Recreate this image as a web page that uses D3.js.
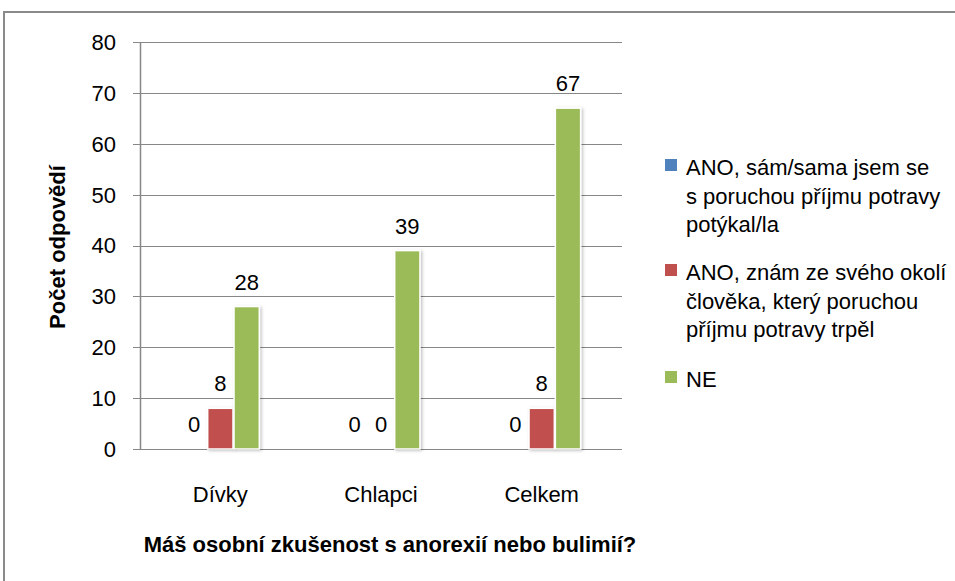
<!DOCTYPE html>
<html>
<head>
<meta charset="utf-8">
<script src="https://cdn.jsdelivr.net/npm/d3@7"></script>
<style>
  html, body { margin: 0; padding: 0; background: #fff; }
  svg { display: block; font-family: "Liberation Sans", Arial, sans-serif; }
</style>
</head>
<body>
<svg id="chart" width="955" height="581"></svg>
<script>
const categories = ["Dívky", "Chlapci", "Celkem"];
const seriesNames = [
  ["ANO, sám/sama jsem se", "s poruchou příjmu potravy", "potýkal/la"],
  ["ANO, znám ze svého okolí", "člověka, který poruchou", "příjmu potravy trpěl"],
  ["NE"]
];
const seriesColors = ["#4F81BD", "#C0504D", "#9BBB59"];
const anoSam = [0, 0, 0];
const anoOkoli = [8, 0, 8];
const ne = [28, 39, 67];
const yTicks = [0, 10, 20, 30, 40, 50, 60, 70, 80];
const yTitle = "Počet odpovědí";
const xTitle = "Máš osobní zkušenost s anorexií nebo bulimií?";

const seriesValues = [anoSam, anoOkoli, ne];

const svg = d3.select("#chart");

// outer frame
svg.append("rect").attr("x", 4).attr("y", 12).attr("width", 1000).attr("height", 1000)
  .attr("fill", "#fff").attr("stroke", "#8a8a8a").attr("stroke-width", 2);

const defs = svg.append("defs");
const f = defs.append("filter").attr("id", "shadow")
  .attr("x", "-30%").attr("y", "-10%").attr("width", "160%").attr("height", "120%");
f.append("feDropShadow").attr("dx", 1.5).attr("dy", 1).attr("stdDeviation", 1.5)
  .attr("flood-color", "#000").attr("flood-opacity", 0.25);

const plot = { left: 140, right: 622, top: 42, bottom: 449 };

const y = d3.scaleLinear().domain([0, 80]).range([plot.bottom, plot.top]);
const x0 = d3.scaleBand().domain(categories).range([plot.left, plot.right])
  .paddingInner(0.515).paddingOuter(0.2575);
const x1 = d3.scaleBand().domain(d3.range(seriesValues.length)).range([0, x0.bandwidth()])
  .paddingInner(0.04);

const FS = 22;

// gridlines
const g = svg.append("g");
g.selectAll("line.grid").data(yTicks).enter().append("line")
  .attr("x1", plot.left - 7).attr("x2", plot.right)
  .attr("y1", d => Math.round(y(d)) + 0.5).attr("y2", d => Math.round(y(d)) + 0.5)
  .attr("stroke", "#878787").attr("stroke-width", 1);

// y axis line
g.append("line").attr("x1", plot.left + 0.5).attr("x2", plot.left + 0.5)
  .attr("y1", plot.top).attr("y2", plot.bottom + 1)
  .attr("stroke", "#878787").attr("stroke-width", 1.5);

// y tick labels
g.selectAll("text.ytick").data(yTicks).enter().append("text")
  .attr("x", 116).attr("y", d => y(d)).attr("dy", "0.36em")
  .attr("text-anchor", "end").attr("font-size", FS).attr("fill", "#000")
  .text(d => d);

// bars
const bars = svg.append("g");
categories.forEach((c, ci) => {
  seriesValues.forEach((vals, si) => {
    const v = vals[ci];
    const bx = x0(c) + x1(si);
    const bw = x1.bandwidth();
    if (v > 0) {
      bars.append("rect")
        .attr("x", bx).attr("y", y(v)).attr("width", bw).attr("height", y(0) - y(v))
        .attr("fill", seriesColors[si]).attr("stroke", "#fff").attr("stroke-width", 1.5)
        .attr("filter", "url(#shadow)");
    }
    bars.append("text")
      .attr("x", bx + bw / 2).attr("y", y(v) - 17)
      .attr("text-anchor", "middle").attr("font-size", FS).attr("fill", "#000")
      .text(v);
  });
});

// category labels
svg.selectAll("text.cat").data(categories).enter().append("text")
  .attr("x", d => x0(d) + x0.bandwidth() / 2).attr("y", 502)
  .attr("text-anchor", "middle").attr("font-size", FS).attr("fill", "#000")
  .text(d => d);

// axis titles
svg.append("text").attr("x", 390).attr("y", 552)
  .attr("text-anchor", "middle").attr("font-size", 22).attr("font-weight", "bold")
  .text(xTitle);
svg.append("text").attr("transform", "translate(65,247) rotate(-90)")
  .attr("text-anchor", "middle").attr("font-size", 22).attr("font-weight", "bold")
  .text(yTitle);

// legend
const legendTop = [175, 280, 387];
seriesNames.forEach((lines, i) => {
  svg.append("rect").attr("x", 665).attr("y", legendTop[i] - 16).attr("width", 12).attr("height", 12)
    .attr("fill", seriesColors[i]);
  const t = svg.append("text").attr("x", 686).attr("y", legendTop[i])
    .attr("font-size", FS).attr("fill", "#000");
  lines.forEach((ln, li) => {
    t.append("tspan").attr("x", 686).attr("y", legendTop[i] + li * 28.5).text(ln);
  });
});
</script>
</body>
</html>
